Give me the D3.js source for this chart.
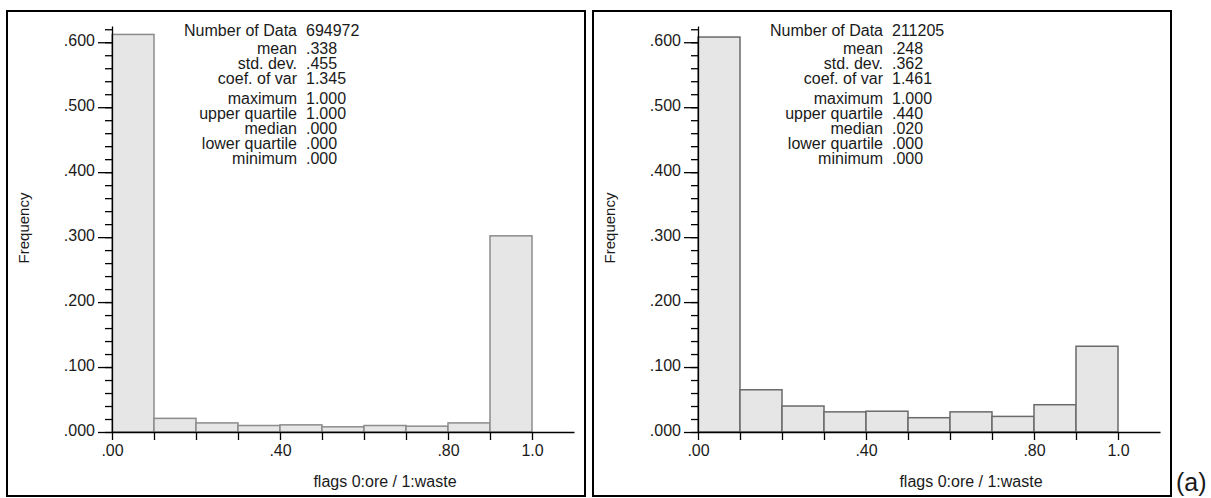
<!DOCTYPE html>
<html>
<head>
<meta charset="utf-8">
<script src="https://cdn.jsdelivr.net/npm/d3@7"></script>
<style>
  html, body { margin: 0; padding: 0; background: #fff; }
  svg { display: block; }
  text { font-family: "Liberation Sans", Arial, sans-serif; fill: #1a1a1a; }
</style>
</head>
<body>
<svg id="chart" width="1211" height="498"></svg>
<script>
// Histogram class edges (0.1 wide classes from 0.0 to 1.1)
const binEdges = [0.0, 0.1, 0.2, 0.3, 0.4, 0.5, 0.6, 0.7, 0.8, 0.9, 1.0, 1.1];

// Relative frequency of each class, left and right histograms
const freqLeft  = [0.612, 0.021, 0.014, 0.010, 0.011, 0.008, 0.010, 0.009, 0.014, 0.302, 0.0];
const freqRight = [0.608, 0.065, 0.040, 0.031, 0.032, 0.022, 0.031, 0.024, 0.042, 0.132, 0.0];

// Summary statistics blocks
const statNames  = ["Number of Data", "mean", "std. dev.", "coef. of var",
                    "maximum", "upper quartile", "median", "lower quartile", "minimum"];
const statsLeft  = ["694972", ".338", ".455", "1.345", "1.000", "1.000", ".000", ".000", ".000"];
const statsRight = ["211205", ".248", ".362", "1.461", "1.000", ".440", ".020", ".000", ".000"];

// Axis ticks and labels
const yMajorTicks = [0.0, 0.1, 0.2, 0.3, 0.4, 0.5, 0.6];
const yMajorLabels = [".000", ".100", ".200", ".300", ".400", ".500", ".600"];
const yMinorTicks = d3.range(0, 32).map(i => i * 0.02);
const xTicks = [0.0, 0.1, 0.2, 0.3, 0.4, 0.5, 0.6, 0.7, 0.8, 0.9, 1.0];
const xLabelled = [0.0, 0.4, 0.8, 1.0];
const xLabels = [".00", ".40", ".80", "1.0"];

const yAxisTitle = "Frequency";
const xAxisTitle = "flags 0:ore / 1:waste";
const panelTag = "(a)";

const svg = d3.select("#chart");

function drawPanel(left, freq, stats, barStroke) {
  const W = 578, H = 485, top = 11;
  const g = svg.append("g").attr("transform", `translate(${left},${top})`);

  g.append("rect")
    .attr("x", 0).attr("y", 0).attr("width", W).attr("height", H)
    .attr("fill", "none").attr("stroke", "#000").attr("stroke-width", 2);

  const x = d3.scaleLinear().domain([0, 1.1]).range([105, 567]);
  const y = d3.scaleLinear().domain([0, 0.625]).range([421, 15]);

  // bars
  const bins = freq.map((f, i) => ({ x0: binEdges[i], x1: binEdges[i + 1], f }));
  g.append("g").selectAll("rect").data(bins).join("rect")
    .attr("x", d => x(d.x0))
    .attr("y", d => y(d.f))
    .attr("width", d => x(d.x1) - x(d.x0))
    .attr("height", d => y(0) - y(d.f))
    .attr("fill", "#e6e6e6")
    .attr("stroke", barStroke)
    .attr("stroke-width", 1.5);

  // y axis: minor ticks, then major ticks with labels
  g.append("g").attr("transform", `translate(${x(0)},0)`)
    .call(d3.axisLeft(y).tickValues(yMinorTicks).tickSize(7).tickSizeOuter(0).tickFormat(""))
    .call(a => a.select(".domain").attr("stroke-width", 1.3))
    .call(a => a.selectAll(".tick line").attr("stroke-width", 1.3));

  g.append("g").attr("transform", `translate(${x(0)},0)`)
    .call(d3.axisLeft(y).tickValues(yMajorTicks).tickSize(14).tickPadding(3).tickSizeOuter(0)
      .tickFormat((d, i) => yMajorLabels[i]))
    .call(a => a.select(".domain").remove())
    .call(a => a.selectAll(".tick line").attr("stroke-width", 1.3))
    .call(a => a.selectAll(".tick text")
      .attr("font-size", 16).attr("font-family", "Liberation Sans, Arial, sans-serif")
      .attr("fill", "#1a1a1a").attr("dy", "0.2em"));

  // x axis
  g.append("g").attr("transform", `translate(0,${y(0)})`)
    .call(d3.axisBottom(x).tickValues(xTicks).tickSize(8).tickPadding(5).tickSizeOuter(0)
      .tickFormat(d => {
        const k = xLabelled.findIndex(v => Math.abs(v - d) < 1e-9);
        return k >= 0 ? xLabels[k] : "";
      }))
    .call(a => a.select(".domain").attr("stroke-width", 1.3))
    .call(a => a.selectAll(".tick line").attr("stroke-width", 1.3))
    .call(a => a.selectAll(".tick text")
      .attr("font-size", 16).attr("font-family", "Liberation Sans, Arial, sans-serif")
      .attr("fill", "#1a1a1a"));

  // axis titles
  g.append("text")
    .attr("transform", `translate(22,217) rotate(-90)`)
    .attr("text-anchor", "middle")
    .attr("font-size", 15)
    .text(yAxisTitle);

  g.append("text")
    .attr("x", 378).attr("y", 476)
    .attr("text-anchor", "middle")
    .attr("font-size", 16)
    .text(xAxisTitle);

  // statistics block
  const rowY = [25, 43, 58, 73, 93, 108, 123, 138, 153];
  const st = g.append("g");
  st.selectAll("text.name").data(statNames).join("text")
    .attr("class", "name")
    .attr("x", 290).attr("y", (d, i) => rowY[i])
    .attr("text-anchor", "end")
    .attr("font-size", 16)
    .text(d => d);
  st.selectAll("text.val").data(stats).join("text")
    .attr("class", "val")
    .attr("x", 299).attr("y", (d, i) => rowY[i])
    .attr("font-size", 16)
    .text(d => d);
}

drawPanel(7, freqLeft, statsLeft, "#8c8c8c");
drawPanel(593, freqRight, statsRight, "#6a6a6a");

svg.append("text")
  .attr("x", 1176).attr("y", 491)
  .attr("font-family", "Lato, 'Open Sans', sans-serif")
  .attr("font-size", 25)
  .text(panelTag);
</script>
</body>
</html>
